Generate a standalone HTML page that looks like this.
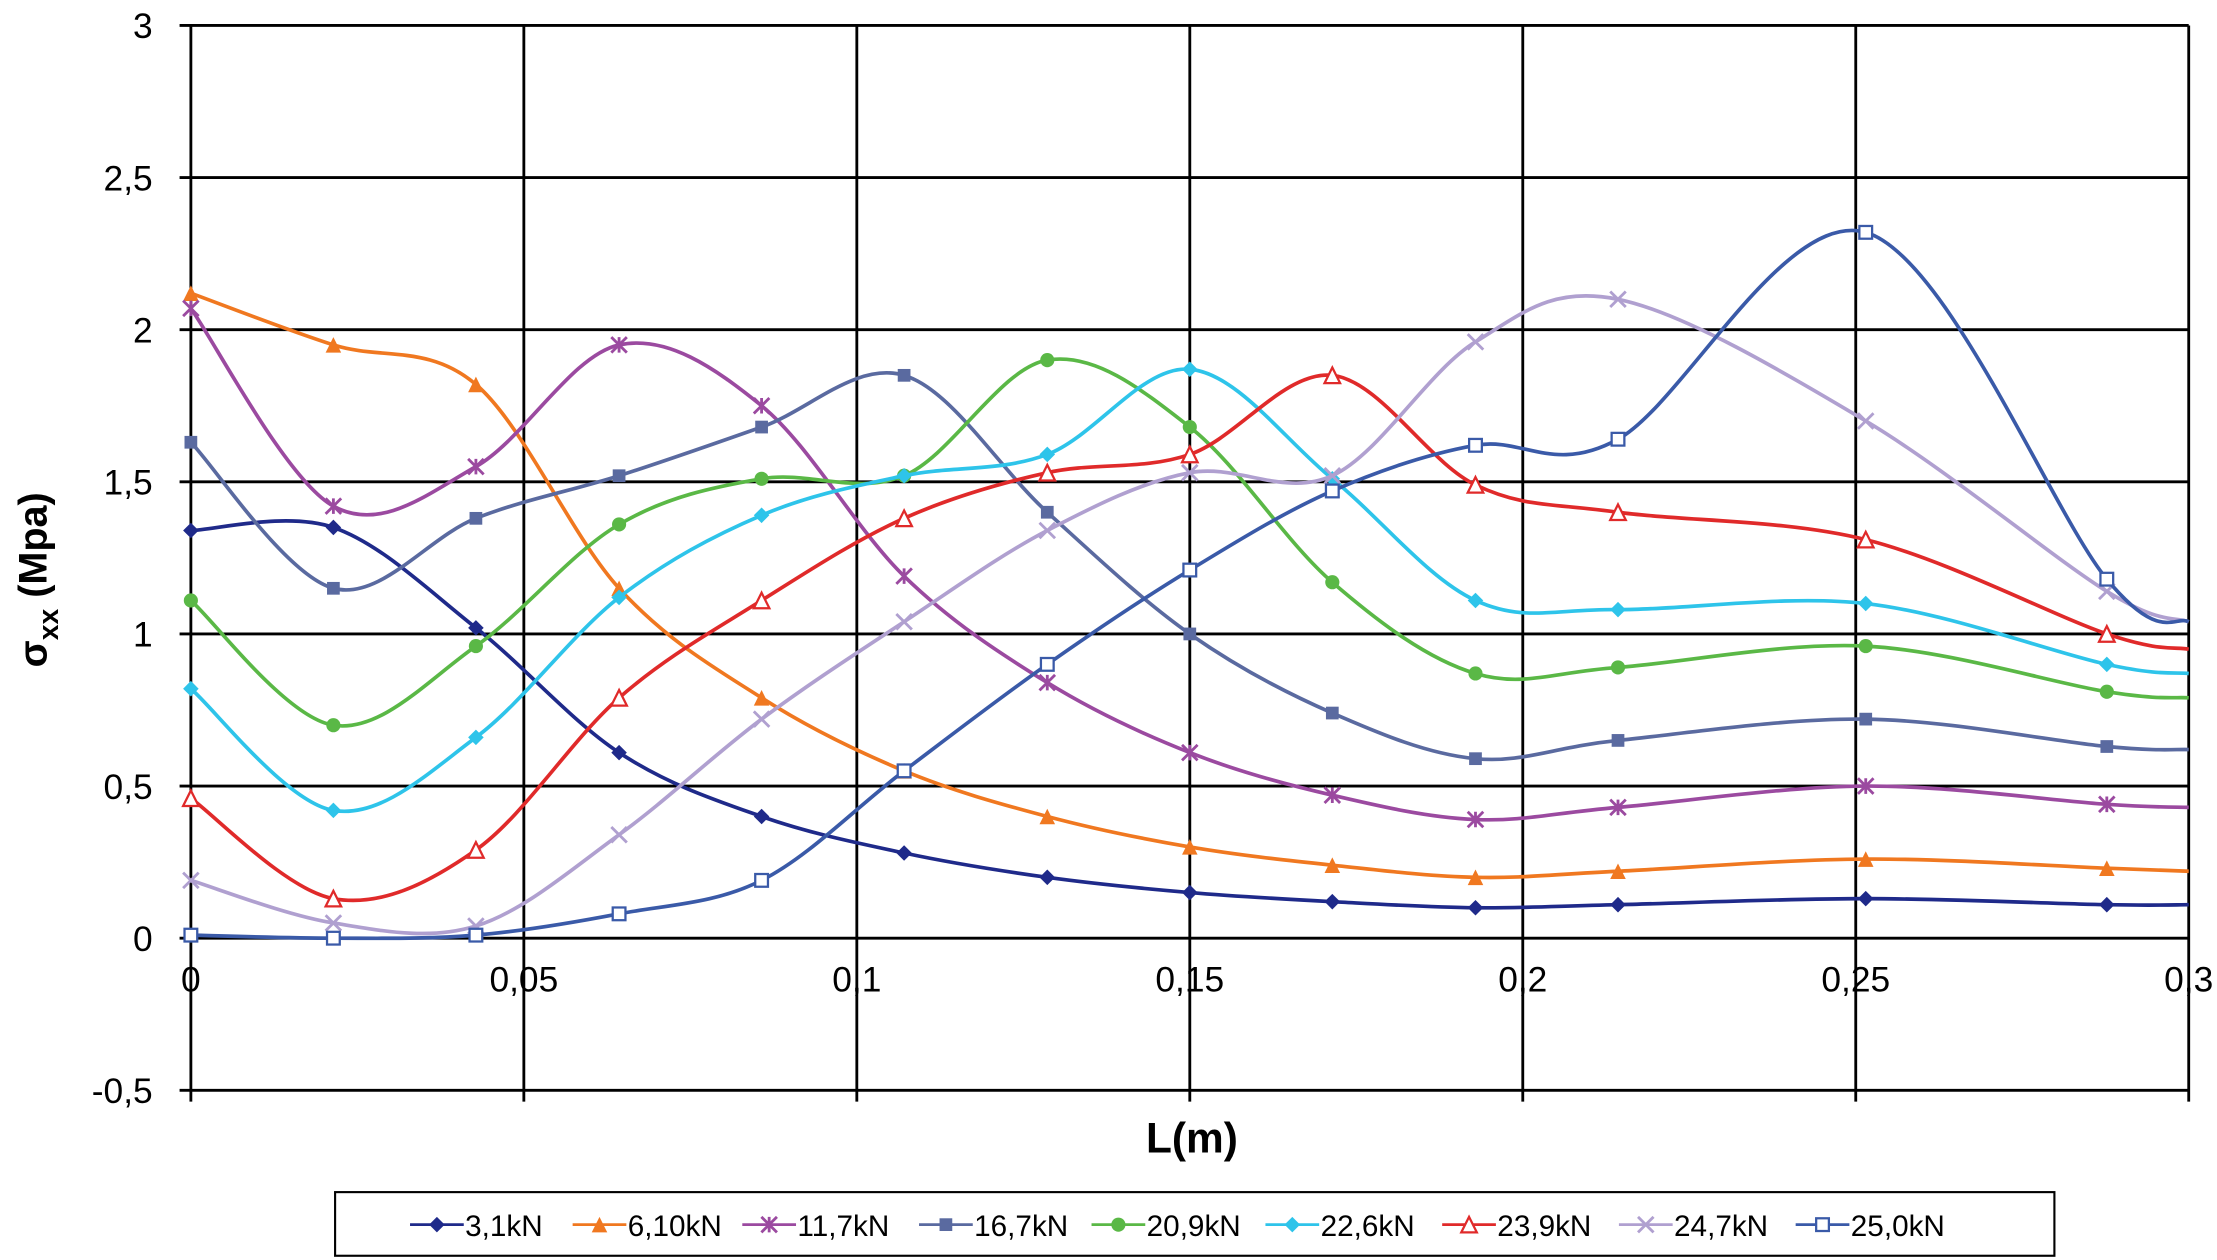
<!DOCTYPE html>
<html><head><meta charset="utf-8"><style>
html,body{margin:0;padding:0;background:#fff;}
svg{display:block;font-family:"Liberation Sans",Arial,sans-serif;}
</style></head><body>
<svg id="chart" width="2217" height="1260" viewBox="0 0 1568 891" preserveAspectRatio="none" xmlns="http://www.w3.org/2000/svg">
<g id="grid"></g>
<g id="series"></g>
<g id="ticks"></g>
<text x="843" y="815" font-size="30" font-weight="bold" text-anchor="middle">L(m)</text>
<text transform="translate(33,410) rotate(-90)" font-size="28" font-weight="bold" text-anchor="middle">σ<tspan font-size="20" dy="8">xx</tspan><tspan dy="-8"> (Mpa)</tspan></text>
<rect x="237" y="843" width="1216" height="45" fill="#fff" stroke="#000" stroke-width="1.5"/>
<g id="legend"></g>
</svg>
<script>
const xs = [0,0.0214,0.0428,0.0643,0.0857,0.1071,0.1286,0.15,0.1714,0.1929,0.2143,0.2515,0.2877,0.3];
const seriesNames = ["3,1kN","6,10kN","11,7kN","16,7kN","20,9kN","22,6kN","23,9kN","24,7kN","25,0kN"];
const s31 = [1.34,1.35,1.02,0.61,0.40,0.28,0.20,0.15,0.12,0.10,0.11,0.13,0.11,0.11];
const s61 = [2.12,1.95,1.82,1.15,0.79,0.55,0.40,0.30,0.24,0.20,0.22,0.26,0.23,0.22];
const s117 = [2.07,1.42,1.55,1.95,1.75,1.19,0.84,0.61,0.47,0.39,0.43,0.50,0.44,0.43];
const s167 = [1.63,1.15,1.38,1.52,1.68,1.85,1.40,1.00,0.74,0.59,0.65,0.72,0.63,0.62];
const s209 = [1.11,0.70,0.96,1.36,1.51,1.52,1.90,1.68,1.17,0.87,0.89,0.96,0.81,0.79];
const s226 = [0.82,0.42,0.66,1.12,1.39,1.52,1.59,1.87,1.51,1.11,1.08,1.10,0.90,0.87];
const s239 = [0.46,0.13,0.29,0.79,1.11,1.38,1.53,1.59,1.85,1.49,1.40,1.31,1.00,0.95];
const s247 = [0.19,0.05,0.04,0.34,0.72,1.04,1.34,1.53,1.52,1.96,2.10,1.70,1.14,1.04];
const s250 = [0.01,0.00,0.01,0.08,0.19,0.55,0.90,1.21,1.47,1.62,1.64,2.32,1.18,1.04];
const xTicks = [0,0.05,0.1,0.15,0.2,0.25,0.3];
const xTickLabels = ["0","0,05","0,1","0,15","0,2","0,25","0,3"];
const yTicks = [-0.5,0,0.5,1,1.5,2,2.5,3];
const yTickLabels = ["-0,5","0","0,5","1","1,5","2","2,5","3"];

const NS="http://www.w3.org/2000/svg";
const X0=135,X1=1548,Y0=771,Y1=18;
const sx=v=>X0+(v-0)/(0.3)*(X1-X0);
const sy=v=>Y0-(v+0.5)/3.5*(Y0-Y1);
function mk(tag,attrs,parent){const e=document.createElementNS(NS,tag);for(const k in attrs)e.setAttribute(k,attrs[k]);parent.appendChild(e);return e;}
const grid=document.getElementById('grid'),ticks=document.getElementById('ticks'),ser=document.getElementById('series'),leg=document.getElementById('legend');
yTicks.forEach((v,i)=>{
  const l=mk('line',{x1:X0-8,x2:X1,y1:sy(v),y2:sy(v),stroke:'#000','stroke-width':2},grid);
  
  
  const t=mk('text',{x:108,y:sy(v)+9,'font-size':25,'text-anchor':'end'},ticks);
  t.textContent=yTickLabels[i];
  
  
});
xTicks.forEach((v,i)=>{
  const l=mk('line',{x1:sx(v),x2:sx(v),y1:Y1,y2:Y0+8,stroke:'#000','stroke-width':2},grid);
  
  
  const t=mk('text',{x:sx(v),y:701,'font-size':25,'text-anchor':'middle'},ticks);
  t.textContent=xTickLabels[i];
  
  
});
const data=[s31,s61,s117,s167,s209,s226,s239,s247,s250];
const colors=["#1f2a8a","#f07820","#9b4aa0","#5a6aa0","#5ab846","#2ec4ea","#e02a2a","#b0a0d0","#3a5aa8"];
const markers=["diamond","tri","star","square","circle","diamond","otri","x","osquare"];
function path(ys){
  const p=ys.map((v,i)=>[sx(xs[i]),sy(v)]);
  let d=`M${p[0][0]},${p[0][1]}`;
  for(let i=0;i<p.length-1;i++){
    const a=p[Math.max(i-1,0)],b=p[i],c=p[i+1],e=p[Math.min(i+2,p.length-1)];
    const t=0.5/3;
    d+=` C${b[0]+(c[0]-a[0])*t},${b[1]+(c[1]-a[1])*t} ${c[0]-(e[0]-b[0])*t},${c[1]-(e[1]-b[1])*t} ${c[0]},${c[1]}`;
  }
  return d;
}
function marker(type,x,y,col,g){
  const s=5.5;
  if(type==="diamond")mk('polygon',{points:`${x},${y-s} ${x+s},${y} ${x},${y+s} ${x-s},${y}`,fill:col},g);
  else if(type==="tri")mk('polygon',{points:`${x},${y-s} ${x+s},${y+s} ${x-s},${y+s}`,fill:col},g);
  else if(type==="otri")mk('polygon',{points:`${x},${y-s} ${x+s},${y+s} ${x-s},${y+s}`,fill:'#fff',stroke:col,'stroke-width':1.6},g);
  else if(type==="square")mk('rect',{x:x-4.5,y:y-4.5,width:9,height:9,fill:col},g);
  else if(type==="osquare")mk('rect',{x:x-4.5,y:y-4.5,width:9,height:9,fill:'#fff',stroke:col,'stroke-width':1.6},g);
  else if(type==="circle")mk('circle',{cx:x,cy:y,r:5,fill:col},g);
  else if(type==="x"){mk('path',{d:`M${x-s},${y-s}L${x+s},${y+s}M${x-s},${y+s}L${x+s},${y-s}`,stroke:col,'stroke-width':2},g);}
  else if(type==="star"){mk('path',{d:`M${x-s},${y-s}L${x+s},${y+s}M${x-s},${y+s}L${x+s},${y-s}M${x},${y-s}L${x},${y+s}`,stroke:col,'stroke-width':2},g);}
}
data.forEach((ys,k)=>{
  const g=mk('g',{},ser);
  
  
  mk('path',{d:path(ys),fill:'none',stroke:colors[k],'stroke-width':2.6},g);
  ys.forEach((v,i)=>{if(i<ys.length-1)marker(markers[k],sx(xs[i]),sy(v),colors[k],g);});
});
const lx=[290,405,525,650,772,895,1020,1145,1270];
seriesNames.forEach((n,k)=>{
  const g=mk('g',{},leg);
  
  
  const x=lx[k],y=866;
  mk('line',{x1:x,x2:x+38,y1:y,y2:y,stroke:colors[k],'stroke-width':2},g);
  marker(markers[k],x+19,y,colors[k],g);
  const t=mk('text',{x:x+39,y:y+8,'font-size':21},g);
  t.textContent=n;
});
</script>
</body></html>
